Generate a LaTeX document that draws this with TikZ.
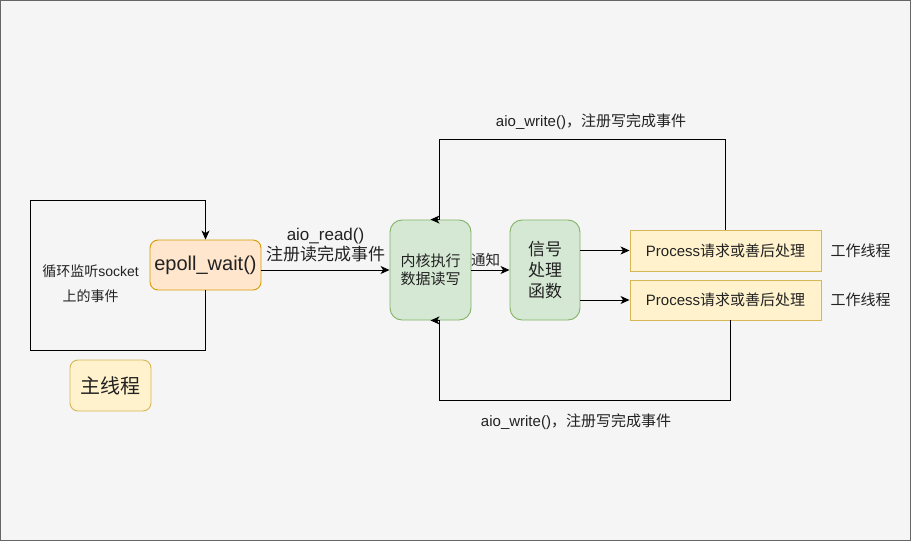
\documentclass[tikz,border=0pt]{standalone}
\usepackage{fontspec}
\setmainfont{Liberation Sans}
\newfontfamily\cjk{Noto Sans CJK SC}
\usepackage{tikz}
\usetikzlibrary{arrows.meta}
\usetikzlibrary{calc}
\usetikzlibrary{positioning}

\definecolor{bgcol}{HTML}{F5F5F5}
\definecolor{framecol}{HTML}{666666}
\definecolor{txtcol}{HTML}{222222}
\definecolor{orangefill}{HTML}{FFE6CC}
\definecolor{orangeline}{HTML}{D79B00}
\definecolor{yellowfill}{HTML}{FFF2CC}
\definecolor{yellowline}{HTML}{D6B656}
\definecolor{greenfill}{HTML}{D5E8D4}
\definecolor{greenline}{HTML}{82B366}

\begin{document}
\begin{tikzpicture}[x=1pt,y=-1pt,
    box/.style={draw, line width=0.9pt, align=center, inner sep=0pt, text=txtcol},
    orangebox/.style={box, fill=orangefill, draw=orangeline, rounded corners=8pt},
    yellowbox/.style={box, fill=yellowfill, draw=yellowline},
    greenbox/.style={box, fill=greenfill, draw=greenline, rounded corners=12pt},
    lbl/.style={align=center, inner sep=0pt, text=txtcol},
    flow/.style={line width=1pt, -{Stealth[length=9pt,width=8pt,inset=2.5pt]}}]
    \useasboundingbox (0,0) rectangle (911,541);
    \draw[framecol, fill=bgcol, line width=1pt] (0.5,0.5) rectangle (910.5,540.5);

    % main thread
    \node[orangebox, minimum width=111, minimum height=50,
      font=\fontsize{20}{24}\selectfont] (epoll) at (205.5,265) {epoll\_wait()};
    \node[yellowbox, rounded corners=8pt, minimum width=81, minimum height=51,
      font=\cjk\fontsize{20}{24}\selectfont] (mainthr) at (110.5,385.5) {主线程};
    \node[lbl, font=\fontsize{14}{25}\selectfont] (looptxt) at (90.5,283.5)
      {{\cjk 循环监听}socket\\{\cjk 上的事件}};
    \coordinate (loopbl) at (30,350);
    \coordinate (looptl) at (30,200);
    \draw[flow] (epoll.south) |- (loopbl) -- (looptl) -| (epoll.north);

    % kernel and signal handler
    \node[greenbox, minimum width=81, minimum height=100,
      font=\cjk\fontsize{15}{18}\selectfont] (kernel) at (430.5,270) {内核执行\\数据读写};
    \node[greenbox, minimum width=70, minimum height=100,
      font=\cjk\fontsize{17}{21}\selectfont] (signal) at (545,270) {信号\\处理\\函数};
    \draw[flow] (epoll.east |- kernel.west) -- (kernel.west);
    \node[lbl, font=\fontsize{17}{20}\selectfont] (readtxt) at (325.5,245)
      {aio\_read()\\{\cjk 注册读完成事件}};
    \draw[flow] (kernel) -- (signal);
    \node[lbl, font=\cjk\fontsize{14.5}{17}\selectfont] (notify) at (485.5,260) {通知};

    % worker threads
    \node[yellowbox, minimum width=191, minimum height=41,
      font=\fontsize{15}{18}\selectfont] (proc1) at (725.5,250.5) {Process{\cjk 请求或善后处理}};
    \node[yellowbox, minimum width=191, minimum height=40,
      font=\fontsize{15}{18}\selectfont] (proc2) at (725.5,300) {Process{\cjk 请求或善后处理}};
    \node[lbl, font=\cjk\fontsize{15}{18}\selectfont] (work1) at (860.5,250.5) {工作线程};
    \node[lbl, font=\cjk\fontsize{15}{18}\selectfont] (work2) at (860.5,300) {工作线程};
    \draw[flow] (signal.east |- proc1.west) -- (proc1.west);
    \draw[flow] (signal.east |- proc2.west) -- (proc2.west);

    % write-back loops
    \draw[flow] (proc1.north) -- ++(0,-90) -| ([xshift=9]kernel.north) -- (kernel.north);
    \draw[flow] ([xshift=5]proc2.south) -- ++(0,80) -| ([xshift=9]kernel.south) -- (kernel.south);
    \node[lbl, font=\fontsize{15}{18}\selectfont] (writetop) at (591,122)
      {aio\_write(){\cjk ，注册写完成事件}};
    \node[lbl, font=\fontsize{15}{18}\selectfont] (writebot) at (576,422)
      {aio\_write(){\cjk ，注册写完成事件}};
  \end{tikzpicture}
\end{document}
